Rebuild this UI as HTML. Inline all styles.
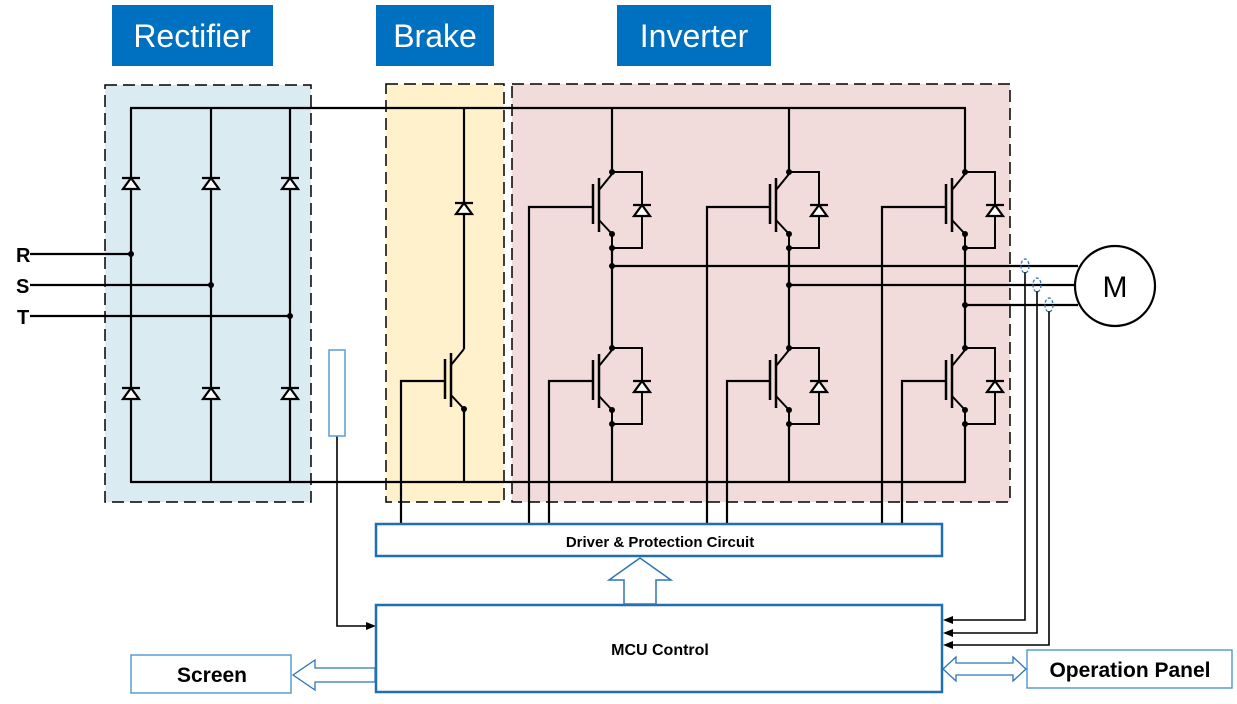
<!DOCTYPE html>
<html><head><meta charset="utf-8"><style>
html,body{margin:0;padding:0;background:#fff;}
svg{display:block;}
text{font-family:"Liberation Sans",sans-serif;}
</style></head><body>
<svg width="1237" height="704" viewBox="0 0 1237 704" xmlns="http://www.w3.org/2000/svg">
<defs>
<g id="dio"><polygon points="-8,6 8,6 0,-5" fill="#fff" stroke="#000" stroke-width="2.2"/><line x1="-9" y1="-5" x2="9" y2="-5" stroke="#000" stroke-width="2.2"/></g>
<g id="ig" stroke="#000" stroke-width="2" fill="none">
<line x1="-19" y1="12" x2="-19" y2="52" stroke-width="2.5"/>
<line x1="-13" y1="6" x2="-13" y2="60" stroke-width="2.5"/>
<line x1="-13" y1="18" x2="0" y2="2"/>
<line x1="-13" y1="48" x2="0" y2="62"/>
</g>
<g id="igd">
<use href="#ig"/>
<g stroke="#000" stroke-width="2" fill="none"><polyline points="0,0 30,0 30,76 0,76"/><line x1="0" y1="62" x2="0" y2="76"/></g>
<use href="#dio" x="30" y="38"/>
<circle cx="0" cy="0" r="3"/><circle cx="0" cy="62" r="3"/><circle cx="0" cy="76" r="3"/>
</g>
</defs>
<rect x="112" y="5" width="161" height="61" fill="#0070C0"/>
<text x="192" y="47" font-size="32" fill="#fff" text-anchor="middle">Rectifier</text>
<rect x="376" y="5" width="118" height="61" fill="#0070C0"/>
<text x="435" y="47" font-size="32" fill="#fff" text-anchor="middle">Brake</text>
<rect x="617" y="5" width="154" height="61" fill="#0070C0"/>
<text x="694" y="47" font-size="32" fill="#fff" text-anchor="middle">Inverter</text>
<g stroke="#000" stroke-width="1.5" stroke-dasharray="12,6">
<rect x="105" y="85" width="206" height="417" fill="#DAEBF2"/>
<rect x="386" y="84" width="118" height="418" fill="#FFF1CC"/>
<rect x="512" y="84" width="498" height="418" fill="#F2DCDB"/>
</g>
<g stroke="#000" stroke-width="2.2" fill="none">
<line x1="130" y1="108" x2="966" y2="108"/>
<line x1="130" y1="482" x2="966" y2="482"/>
<line x1="131" y1="108" x2="131" y2="482"/>
<line x1="211" y1="108" x2="211" y2="482"/>
<line x1="290" y1="108" x2="290" y2="482"/>
<line x1="30" y1="254" x2="131" y2="254"/>
<line x1="30" y1="285" x2="211" y2="285"/>
<line x1="30" y1="316" x2="290" y2="316"/>
<line x1="464" y1="108" x2="464" y2="349"/>
<line x1="464" y1="409" x2="464" y2="482"/>
<polyline points="401,525 401,381 445,381"/>
<polyline points="337,436 337,626 366,626" stroke-width="1.6"/>
<line x1="612" y1="108" x2="612" y2="172"/>
<line x1="612" y1="248" x2="612" y2="348"/>
<line x1="612" y1="424" x2="612" y2="482"/>
<line x1="789" y1="108" x2="789" y2="172"/>
<line x1="789" y1="248" x2="789" y2="348"/>
<line x1="789" y1="424" x2="789" y2="482"/>
<line x1="965" y1="108" x2="965" y2="172"/>
<line x1="965" y1="248" x2="965" y2="348"/>
<line x1="965" y1="424" x2="965" y2="482"/>
<polyline points="529,525 529,207 593,207"/>
<polyline points="549,525 549,381 593,381"/>
<polyline points="707,525 707,207 770,207"/>
<polyline points="727,525 727,381 770,381"/>
<polyline points="882,525 882,207 946,207"/>
<polyline points="902,525 902,381 946,381"/>
<line x1="612" y1="266" x2="1078" y2="266"/>
<line x1="789" y1="285" x2="1075" y2="285"/>
<line x1="965" y1="305" x2="1078" y2="305"/>
</g>
<g stroke="#000" stroke-width="1.6" fill="none">
<polyline points="1025,272 1025,620 952,620"/>
<polyline points="1037,291 1037,633 952,633"/>
<polyline points="1049,311 1049,645 952,645"/>
</g>
<g fill="#000">
<polygon points="943,620 953,616 953,624"/>
<polygon points="943,633 953,629 953,637"/>
<polygon points="943,645 953,641 953,649"/>
<polygon points="376,626 366,622 366,630"/>
</g>
<g fill="none" stroke="#2E75B6" stroke-width="1.3" stroke-dasharray="3,2">
<ellipse cx="1025" cy="266" rx="4" ry="7"/>
<ellipse cx="1037" cy="285" rx="4" ry="7"/>
<ellipse cx="1049" cy="305" rx="4" ry="7"/>
</g>
<g fill="#000">
<circle cx="131" cy="254" r="3"/><circle cx="211" cy="285" r="3"/><circle cx="290" cy="316" r="3"/>
<circle cx="612" cy="266" r="3"/><circle cx="789" cy="285" r="3"/><circle cx="965" cy="305" r="3"/>
<circle cx="464" cy="409" r="3"/>
</g>
<use href="#dio" x="131" y="183"/><use href="#dio" x="211" y="183"/><use href="#dio" x="290" y="183"/>
<use href="#dio" x="131" y="393"/><use href="#dio" x="211" y="393"/><use href="#dio" x="290" y="393"/>
<use href="#dio" x="464" y="208"/>
<use href="#ig" x="464" y="347"/>
<use href="#igd" x="612" y="172"/><use href="#igd" x="612" y="348"/>
<use href="#igd" x="789" y="172"/><use href="#igd" x="789" y="348"/>
<use href="#igd" x="965" y="172"/><use href="#igd" x="965" y="348"/>
<g font-size="20" font-weight="bold">
<text x="16" y="262">R</text><text x="16" y="293">S</text><text x="17" y="324">T</text>
</g>
<rect x="329" y="350" width="16" height="86" fill="#fff" stroke="#5B9BD5" stroke-width="1.5"/>
<circle cx="1115" cy="286" r="40" fill="#fff" stroke="#000" stroke-width="2.2"/>
<text x="1115" y="297" font-size="30" text-anchor="middle">M</text>
<rect x="376" y="524" width="566" height="32" fill="#fff" stroke="#1F6FB5" stroke-width="2.5"/>
<text x="660" y="547" font-size="15" font-weight="bold" text-anchor="middle">Driver &amp; Protection Circuit</text>
<rect x="376" y="605" width="566" height="87" fill="#fff" stroke="#1F6FB5" stroke-width="2.5"/>
<text x="660" y="655" font-size="16" font-weight="bold" text-anchor="middle">MCU Control</text>
<polygon points="624,604 624,580 609,580 640,558 671,580 656,580 656,604" fill="#fff" stroke="#2E75B6" stroke-width="1.5"/>
<rect x="131" y="655" width="160" height="38" fill="#fff" stroke="#5B9BD5" stroke-width="1.5"/>
<text x="212" y="682" font-size="21" font-weight="bold" text-anchor="middle">Screen</text>
<polygon points="375,668 315,668 315,660 293,675 315,690 315,682 375,682" fill="#fff" stroke="#2E75B6" stroke-width="1.3"/>
<rect x="1027" y="650" width="205" height="38" fill="#fff" stroke="#5B9BD5" stroke-width="1.5"/>
<text x="1130" y="677" font-size="21" font-weight="bold" text-anchor="middle">Operation Panel</text>
<polygon points="943,669 956,657 956,663 1013,663 1013,657 1026,669 1013,681 1013,675 956,675 956,681" fill="#fff" stroke="#2E75B6" stroke-width="1.3"/>
</svg>
</body></html>
